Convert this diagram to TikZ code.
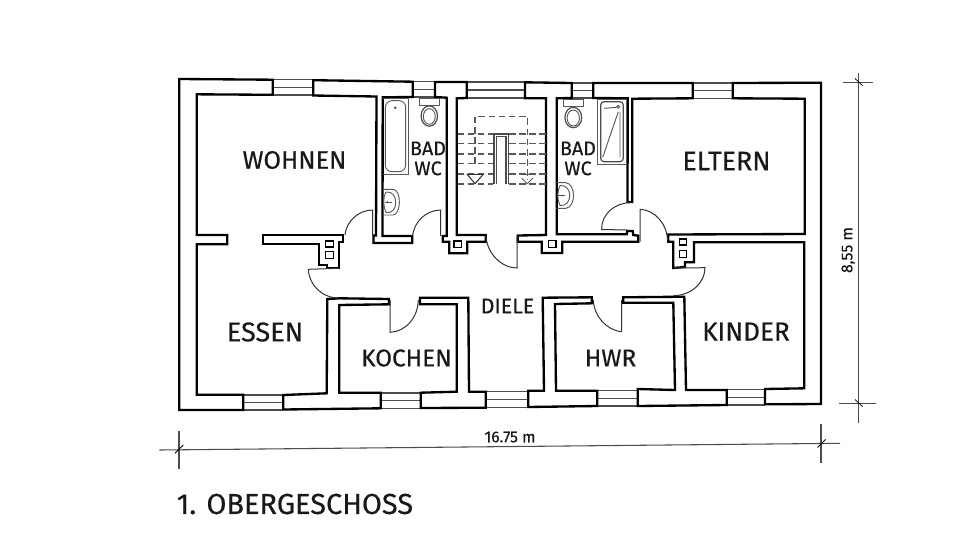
\documentclass[tikz,border=0pt]{standalone}
\usepackage{fontspec}
\setmainfont{Fira Sans}[FakeBold=0.35]
\tikzset{
 wall/.style={draw=black,line width=1.75pt,line join=miter,fill=white},
 win/.style={draw=black!70,line width=0.85pt},
 fix/.style={draw=black!65,line width=0.7pt},
 fixd/.style={draw=black!70,line width=0.9pt},
 stairl/.style={draw=black!65,line width=1pt,dash pattern=on 5pt off 2.6pt},
 doorl/.style={draw=black!80,line width=0.75pt},
 dim/.style={draw=black!70,line width=0.8pt},
 room/.style={font=\fontsize{#1}{20pt}\selectfont,text=black!90,inner sep=0pt},
 bad/.style={font=\fontsize{14.8pt}{15pt}\selectfont,text=black!90,inner sep=0pt,align=center},
 dimt/.style={font=\fontsize{11.8pt}{13pt}\selectfont,text=black!90,inner sep=0pt},
}
\begin{document}
\begin{tikzpicture}[x=0.75pt,y=-0.75pt]
\useasboundingbox (0,0) rectangle (960,540);
\fill[white] (0,0) rectangle (960,540);
% windows
\foreach \a/\b/\c/\d in {272.7/313.3/79.7/95,412.7/435/81.5/97,466.7/525/82/98,571.7/593.3/83/98,692.7/732.7/83/98.3,243.3/283.3/395/410,380.7/420.7/393/408.3,485.7/528.3/391.5/407.5,597.3/637.7/390.5/406,726.7/765/389.5/405}{
 \draw[win] (\a,\c) -- (\b,\c) (\a,{(\c+\d)/2}) -- (\b,{(\c+\d)/2}) (\a,\d) -- (\b,\d);
}
% walls
\draw[wall] (272.7,94.8)--(272.7,79.7)--(179.3,79)--(179.3,410)--(243.3,410)--(243.3,394.8)--(196.7,394.8)--(196.7,244.3)--(227.3,244.3)--(227.3,235)--(196.7,235)--(196.7,94.3)--cycle;
\draw[wall] (313.3,80.2)--(412.7,81.7)--(412.7,97)--(382.7,97.3)--(382.5,236)--(412.3,236)--(412.3,243)--(373.5,243)--(373.5,235.5)--(376,235.5)--(376.5,96.5)--(313.3,95.5)--cycle;
\draw[wall] (435,82)--(466.7,82)--(466.7,98)--(456.7,98.3)--(456.7,235)--(485.7,235)--(485.7,241.7)--(467.3,241.7)--(467.3,253.3)--(449.3,253.3)--(449.3,241.7)--(442.7,241.7)--(442.7,236)--(446.7,236)--(446.7,97.7)--(435,97)--cycle;
\draw[wall] (525,82.3)--(571.7,83)--(571.7,98)--(556.7,98.3)--(556.7,234.3)--(626.7,234.3)--(627.3,231)--(632.7,231)--(633.3,235)--(638.3,235.7)--(638.3,241.7)--(562.3,241.7)--(562.3,253)--(541.7,253)--(541.7,241.7)--(517.7,241.7)--(517.7,235.5)--(546,235)--(546,98.3)--(525,98.3)--cycle;
\draw[wall] (593.3,83)--(692.7,83)--(692.7,98.3)--(632.3,98.7)--(632.3,202)--(627.5,202)--(627.7,98.3)--(593.3,98)--cycle;
\draw[wall] (732.7,83)--(821,82.7)--(821,404)--(765,404.3)--(765,389)--(804.3,388.3)--(804.3,242.3)--(694,242.3)--(694,262.3)--(685,262.3)--(685,267)--(673.3,268)--(673.3,241.7)--(668.3,241.7)--(668.3,234.5)--(804.7,234)--(804.7,98.7)--(732.7,98.3)--cycle;
\draw[wall] (343.3,235)--(343.3,241.7)--(339.3,241.7)--(339.3,268.3)--(326.7,268.3)--(326.7,265)--(319,265)--(319,244.3)--(262.7,244.3)--(262.7,235)--cycle;
\draw[wall] (283.3,409.5)--(380.7,408.3)--(380.7,392.7)--(339.3,392.7)--(339.3,305)--(389.3,304.3)--(388.8,299)--(340,298.3)--(327.3,299)--(326.7,393.3)--(283.3,395)--cycle;
\draw[wall] (420.7,408)--(485.7,407.7)--(485.7,391.7)--(469,391.7)--(468.3,297.7)--(420,297.7)--(420,304.3)--(456.7,304.3)--(456.7,391.7)--(420.7,392.7)--cycle;
\draw[wall] (528.3,407)--(597.3,406)--(597.3,390.7)--(556,390.7)--(555,304)--(591.7,303.3)--(591.7,297.3)--(542.7,297.7)--(544,390.7)--(528.3,390.7)--cycle;
\draw[wall] (637.7,406)--(726.7,405)--(726.7,390)--(686,390)--(684.3,296.7)--(623.3,297.3)--(623.3,302.7)--(673.3,302.7)--(675,390)--(637.7,389)--cycle;
% chimneys
\foreach \a/\b/\c/\d in {325.7/333.3/241/247,325.7/333.3/251.7/258.3,454/461.7/241/247.7,548.3/556/240.7/247.7,679.3/686.7/239/245,679.3/686.7/250.7/257.3}{
 \draw[black,line width=1.1pt] (\a,\c) rectangle (\b,\d);
}
% doors
\draw[doorl] (372.7,235)--(372.7,210) .. controls (358,210) and (346,222) .. (345,235);
\draw[doorl] (440.7,236)--(440.7,210) .. controls (426,210) and (414,222) .. (412.5,236);
\draw[doorl] (517,236)--(517,268) .. controls (502,268) and (487,254) .. (486,236);
\draw[doorl] (627,230)--(601.7,229.5) .. controls (601,215) and (614,203) .. (630,202.7);
\draw[doorl] (640,241.7)--(640,209.3) .. controls (655,210) and (667,224) .. (667.5,240);
\draw[doorl] (339,268.3)--(308.3,269.3) .. controls (309,285) and (322,298) .. (339,298);
\draw[doorl] (673.3,268)--(705,267.7) .. controls (705,283) and (691,295.5) .. (673.3,295.7);
\draw[doorl] (390,300)--(390,332.3) .. controls (405,332) and (418,318) .. (418.3,300);
\draw[doorl] (621.7,300)--(621.7,331.7) .. controls (606,330) and (594,316) .. (593.3,300);
% left bath
\draw[fix] (382.7,98)--(408.3,98)--(408.3,174.3)--(382.7,174.3);
\draw[fix,rounded corners=5pt] (385.3,100.7) rectangle (405.7,171.7);
\fill[black!70] (395.3,107.7) circle (1.4);
\draw[fix] (419.3,98.3) rectangle (439,105);
\draw[fixd] (429.3,116) ellipse (8.2 and 10.2);
\draw[fix] (429.3,116.5) ellipse (6 and 7.8);
\draw[fix] (382.7,189.3)--(393,189.3) .. controls (402,190) and (401,215) .. (393,215)--(382.7,215);
\draw[fix] (386,192) .. controls (399,190) and (399,215) .. (386,212.5) .. controls (383,205) and (383,197) .. (386,192);
\draw[fix] (385,202)--(392,202);
\fill[black!70] (387.5,202) circle (1);
% right bath
\draw[fix] (563.3,99) rectangle (583.3,106);
\draw[fixd] (573.3,117.5) ellipse (8.4 and 10.2);
\draw[fix] (573.3,118) ellipse (6.2 and 8);
\draw[fix] (556.7,182.7)--(566,182.7) .. controls (576,184) and (576,207) .. (566,208.3)--(556.7,208.3);
\draw[fix] (560,185.5) .. controls (573,184) and (573,207) .. (560,205.5) .. controls (557,199) and (557,192) .. (560,185.5);
\draw[fix] (558,195.5)--(565,195.5);
\fill[black!70] (562,195.5) circle (1);
\draw[fix] (597.7,99.3) rectangle (626,164.3);
\draw[fixd,rounded corners=2.5pt] (600.7,101.7) rectangle (623.3,161.7);
\draw[fix] (602.7,157.3)--(618.3,111.7) (620,111.7)--(620,157.3) (604,108.3)--(616.7,107.3);
\draw[fix] (618.3,106.7) circle (1.4);
% stair
\foreach \y in {134,143.7,154,163.7,174,184}{
 \draw[stairl] (457.5,\y)--(493,\y);
 \draw[stairl] (509,\y)--(546,\y);
}
\draw[stairl] (475,164)--(475,116.7)--(527.3,116.7)--(527.3,180);
\draw[fixd,line width=0.9pt] (494,184)--(494,134)--(508.3,134)--(508.3,184);
\draw[fixd,line width=0.9pt] (496.7,184)--(496.7,136.7)--(506,136.7)--(506,184);
\draw[black!80,line width=0.8pt] (467.3,174.3)--(483.3,174.3)--(475,183.7)--cycle;
\draw[black!65,line width=0.7pt,dash pattern=on 2.5pt off 1.5pt] (520,174.3)--(535,174.3);
\draw[black!65,line width=0.7pt] (521.7,178.3)--(527.3,183.7)--(532.7,178.3);
% labels
\node[room=19pt] (wohnen) at (294.5,160) {WOHNEN};
\node[room=20.1pt] (eltern) at (726.5,161) {ELTERN};
\node[room=20.3pt] (essen) at (265,332) {ESSEN};
\node[room=19.6pt] (kinder) at (746,331.5) {KINDER};
\node[room=18.2pt] (kochen) at (406.5,358) {KOCHEN};
\node[room=18.3pt] (hwr) at (610.5,358) {HWR};
\node[room=16pt] (diele) at (507.5,306) {DIELE};
\node[bad] (bad1) at (428,158.5) {BAD\\WC};
\node[bad] (bad2) at (578,158.5) {BAD\\WC};
\node[font=\fontsize{21.7pt}{24pt}\selectfont,text=black!90,anchor=west,inner sep=0pt] (title) at (176.5,504) {1. OBERGESCHOSS};
% dims
\coordinate (v1) at (858.3,72.7);
\coordinate (v2) at (858.3,422.7);
\draw[dim] (v1)--(v2);
\draw[dim] (842.7,82.7)--(873.3,82.7) (839.3,403.3)--(876,403.3);
\draw[black,line width=0.6pt] (855,78.5)--(862.5,85.5) (855,399.5)--(862.5,406.5);
\node[dimt,rotate=90] (h) at (848.3,250) {8,55 m};
\coordinate (h1) at (159.3,450);
\coordinate (h2) at (840,443.3);
\draw[dim] (h1)--(h2);
\draw[dim] (179,430.7)--(179,469) (821,424)--(821,463.3);
\draw[black,line width=0.6pt] (175,453.3)--(183.3,445) (817.5,447.5)--(825.5,439.5);
\node[dimt] (w) at (510,437) {16.75 m};
\end{tikzpicture}
\end{document}
